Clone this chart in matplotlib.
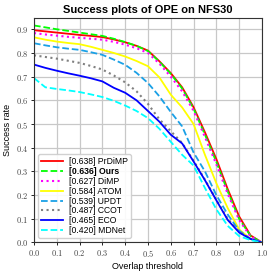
"""
Success plot (OPE) on NFS30
"""

import matplotlib
matplotlib.use("Agg")
import matplotlib.pyplot as plt
from matplotlib.ticker import FuncFormatter

plt.rcParams["mathtext.fontset"] = "cm"
plt.rcParams["font.family"] = ["Liberation Sans", "DejaVu Sans"]

# overlap thresholds
thresholds = [0.0, 0.05, 0.1, 0.15, 0.2, 0.25, 0.3, 0.35, 0.4, 0.45, 0.5,
              0.55, 0.6, 0.65, 0.7, 0.75, 0.8, 0.85, 0.9, 0.95, 1.0]

# success rates
prdimp = [0.896, 0.891, 0.886, 0.881, 0.876, 0.872, 0.867, 0.857, 0.845, 0.830, 0.810,
          0.765, 0.715, 0.655, 0.571, 0.465, 0.352, 0.225, 0.110, 0.030, 0.0]
ours = [0.916, 0.908, 0.900, 0.893, 0.886, 0.879, 0.872, 0.860, 0.846, 0.830, 0.808,
        0.763, 0.712, 0.650, 0.565, 0.455, 0.340, 0.215, 0.100, 0.028, 0.0]
dimp = [0.884, 0.878, 0.873, 0.868, 0.864, 0.860, 0.856, 0.847, 0.835, 0.820, 0.800,
        0.755, 0.700, 0.638, 0.556, 0.445, 0.330, 0.205, 0.095, 0.025, 0.0]
atom = [0.866, 0.856, 0.848, 0.842, 0.837, 0.826, 0.813, 0.800, 0.785, 0.766, 0.744,
        0.697, 0.624, 0.570, 0.500, 0.370, 0.250, 0.145, 0.055, 0.015, 0.0]
updt = [0.841, 0.832, 0.824, 0.818, 0.813, 0.803, 0.792, 0.772, 0.750, 0.716, 0.673,
        0.617, 0.551, 0.490, 0.380, 0.300, 0.200, 0.118, 0.050, 0.015, 0.0]
ccot = [0.790, 0.783, 0.776, 0.767, 0.758, 0.745, 0.730, 0.705, 0.676, 0.638, 0.585,
        0.520, 0.470, 0.420, 0.345, 0.265, 0.180, 0.100, 0.045, 0.015, 0.0]
eco = [0.751, 0.737, 0.725, 0.714, 0.704, 0.693, 0.680, 0.653, 0.632, 0.600, 0.555,
       0.510, 0.455, 0.418, 0.342, 0.263, 0.178, 0.095, 0.042, 0.015, 0.0]
mdnet = [0.694, 0.655, 0.648, 0.642, 0.635, 0.625, 0.614, 0.598, 0.578, 0.555, 0.525,
         0.480, 0.425, 0.370, 0.325, 0.230, 0.140, 0.070, 0.027, 0.010, 0.0]

labels = ["[0.638] PrDiMP", "[0.636] Ours", "[0.627] DiMP", "[0.584] ATOM",
          "[0.539] UPDT", "[0.487] CCOT", "[0.465] ECO", "[0.420] MDNet"]

fig = plt.figure(figsize=(2.74, 2.74), dpi=100)
ax = fig.add_axes([0.124, 0.115, 0.832, 0.818])

ax.plot(thresholds, prdimp, color="#ff0000", linestyle="-", linewidth=1.3, label=labels[0])
ax.plot(thresholds, ours, color="#00ff00", linestyle="--", linewidth=1.3, label=labels[1])
ax.plot(thresholds, dimp, color="#ff00ff", linestyle=":", linewidth=1.5, label=labels[2])
ax.plot(thresholds, atom, color="#ffff00", linestyle="-", linewidth=1.3, label=labels[3])
ax.plot(thresholds, updt, color="#1aa0e6", linestyle="--", linewidth=1.3, label=labels[4])
ax.plot(thresholds, ccot, color="#808080", linestyle=":", linewidth=1.5, label=labels[5])
ax.plot(thresholds, eco, color="#0000ff", linestyle="-", linewidth=1.3, label=labels[6])
ax.plot(thresholds, mdnet, color="#00ffff", linestyle="--", linewidth=1.3, label=labels[7])

ax.set_xlim(0, 1)
ax.set_ylim(0, 0.946)
ax.set_xticks([i / 10 for i in range(11)])
ax.set_yticks([i / 10 for i in range(10)])
fmt = FuncFormatter(lambda v, p: r"$%.1f$" % v)
ax.xaxis.set_major_formatter(fmt)
ax.yaxis.set_major_formatter(fmt)
ax.tick_params(labelsize=6, labelcolor="#444444", length=2, width=0.6, pad=2)
ax.grid(True, color="#c8c8c8", linewidth=0.9)
ax.set_axisbelow(True)
for s in ax.spines.values():
    s.set_linewidth(0.8)
    s.set_color("#333333")

ax.set_xlabel("Overlap threshold", fontsize=6.5, labelpad=2)
ax.set_ylabel("Success rate", fontsize=6.5, labelpad=3)
ax.set_title("Success plots of OPE on NFS30", fontsize=8, fontweight="bold", pad=4)

leg = ax.legend(loc="lower left", fontsize=6.2, labelspacing=0.1, handlelength=2.5,
                borderpad=0.35, handletextpad=0.7, borderaxespad=0.5, framealpha=0.9,
                fancybox=True)
leg.get_texts()[1].set_fontweight("bold")

fig.savefig("out.png", dpi=100)
